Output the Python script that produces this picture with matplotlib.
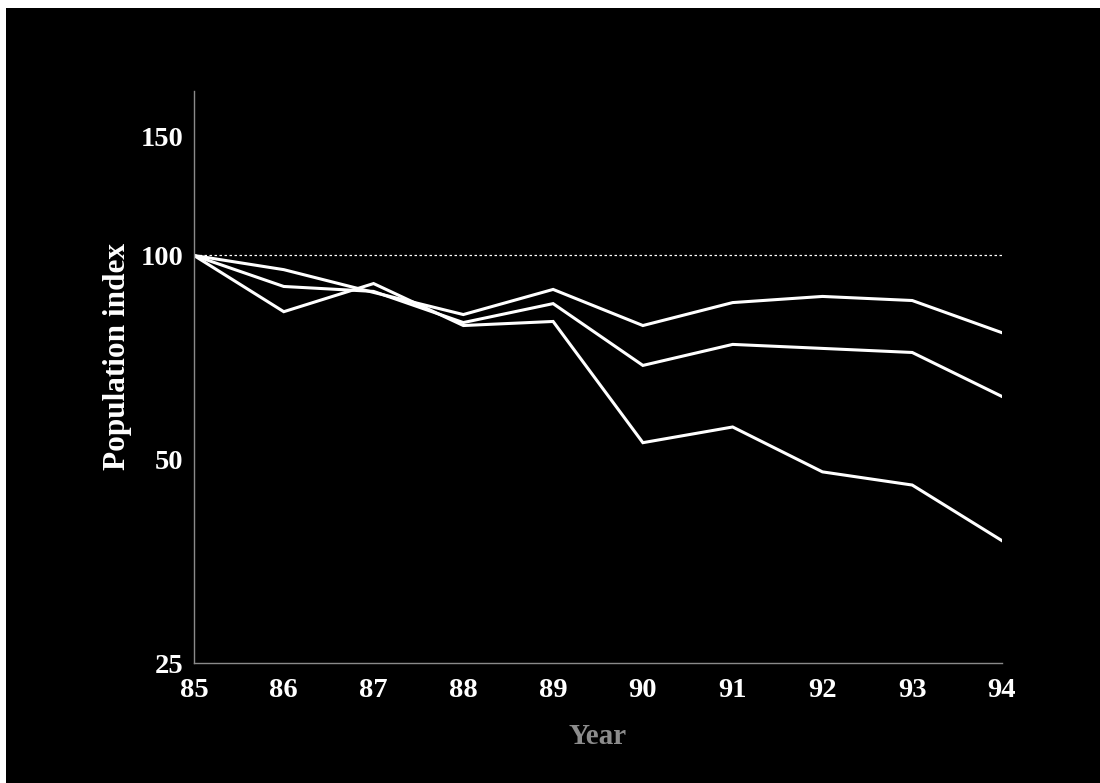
import numpy as np
import matplotlib
matplotlib.use('Agg')
import matplotlib.pyplot as plt
from matplotlib.patches import Rectangle

# Годы и индексы численности (1985 = 100)
years = [85, 86, 87, 88, 89, 90, 91, 92, 93, 94]
series_a = [100, 95.3, 88.2, 81.8, 89.1, 78.8, 85.2, 87.0, 85.8, 76.9]
series_b = [100, 90.0, 88.5, 79.6, 84.9, 68.8, 73.9, 72.9, 71.9, 61.9]
series_c = [100, 82.6, 90.9, 78.8, 79.9, 52.9, 55.8, 47.9, 45.8, 37.9]
y_ticks = [25, 50, 100, 150]

plt.rcParams['font.family'] = ['Liberation Serif', 'DejaVu Serif']
plt.rcParams['font.weight'] = 'bold'

fig = plt.figure(figsize=(11, 7.83), dpi=100, facecolor='white')
# чёрный фон с тонкой белой полосой сверху и слева
fig.patches.append(Rectangle((6 / 1100, 0), 1, 1 - 8 / 783, transform=fig.transFigure,
                             facecolor='black', edgecolor='none', zorder=-10))

ax = fig.add_axes([194 / 1100, 1 - 663 / 783, 808 / 1100, 572 / 783])
ax.set_facecolor('black')
ax.set_yscale('log')
ax.set_xlim(85, 94)
ax.set_ylim(25, 175)

ax.axhline(100, color='white', lw=0.9, linestyle=(0, (2, 2)), zorder=1)
for s in (series_a, series_b, series_c):
    ax.plot(years, s, color='white', lw=2.2, solid_joinstyle='miter', zorder=2)

ax.set_yticks(y_ticks)
ax.set_yticklabels([str(v) for v in y_ticks])
ax.yaxis.set_minor_locator(matplotlib.ticker.NullLocator())
ax.set_xticks(years)
ax.set_xticklabels([str(y) for y in years])
ax.tick_params(axis='both', length=0, labelsize=20.5, labelcolor='white')
ax.tick_params(axis='y', pad=7.5)
ax.tick_params(axis='x', pad=11)

for side in ('top', 'right'):
    ax.spines[side].set_visible(False)
for side in ('left', 'bottom'):
    ax.spines[side].set_color('#8a8a8a')
    ax.spines[side].set_linewidth(1.0)

fig.text(118 / 1100, 1 - 356 / 783, 'Population index', rotation=90, color='white',
         fontsize=22.5, fontweight='bold', ha='center', va='center')
fig.text(598 / 1100, 1 - 737 / 783, 'Year', color='#8c8c8c',
         fontsize=21, fontweight='bold', ha='center', va='center')

fig.savefig('out.png', dpi=100, facecolor=fig.get_facecolor())
